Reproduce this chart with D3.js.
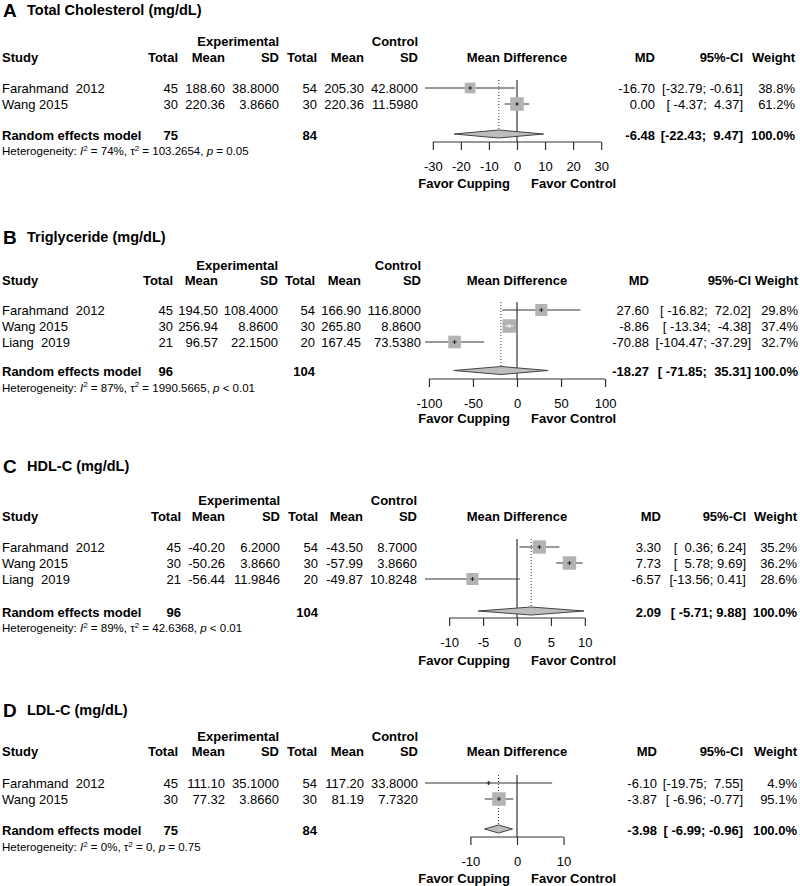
<!DOCTYPE html>
<html><head><meta charset="utf-8">
<script src="https://cdn.jsdelivr.net/npm/d3@7"></script>
<style>
body{margin:0;background:#fff}
text{font-family:"Liberation Sans",Arial,Helvetica,sans-serif;white-space:pre;fill:#000}
</style>
</head><body>
<svg id="c" width="800" height="886" xmlns="http://www.w3.org/2000/svg"></svg>
<script>
// ---------------- DATA ----------------
const panelLetters = ["A", "B", "C", "D"];
const panelTitles = ["Total Cholesterol (mg/dL)", "Triglyceride (mg/dL)", "HDL-C (mg/dL)", "LDL-C (mg/dL)"];
const studies = [
  ["Farahmand  2012", "Wang 2015"],
  ["Farahmand  2012", "Wang 2015", "Liang  2019"],
  ["Farahmand  2012", "Wang 2015", "Liang  2019"],
  ["Farahmand  2012", "Wang 2015"]
];
const expTotal = [[45, 30], [45, 30, 21], [45, 30, 21], [45, 30]];
const expMean = [[188.60, 220.36], [194.50, 256.94, 96.57], [-40.20, -50.26, -56.44], [111.10, 77.32]];
const expSD = [[38.8, 3.866], [108.4, 8.86, 22.15], [6.2, 3.866, 11.9846], [35.1, 3.866]];
const ctrlTotal = [[54, 30], [54, 30, 20], [54, 30, 20], [54, 30]];
const ctrlMean = [[205.30, 220.36], [166.90, 265.80, 167.45], [-43.50, -57.99, -49.87], [117.20, 81.19]];
const ctrlSD = [[42.8, 11.598], [116.8, 8.86, 73.538], [8.7, 3.866, 10.8248], [33.8, 7.732]];
const md = [[-16.70, 0.00], [27.60, -8.86, -70.88], [3.30, 7.73, -6.57], [-6.10, -3.87]];
const ciLower = [[-32.79, -4.37], [-16.82, -13.34, -104.47], [0.36, 5.78, -13.56], [-19.75, -6.96]];
const ciUpper = [[-0.61, 4.37], [72.02, -4.38, -37.29], [6.24, 9.69, 0.41], [7.55, -0.77]];
const weights = [[38.8, 61.2], [29.8, 37.4, 32.7], [35.2, 36.2, 28.6], [4.9, 95.1]];
const pooledMD = [-6.48, -18.27, 2.09, -3.98];
const pooledLower = [-22.43, -71.85, -5.71, -6.99];
const pooledUpper = [9.47, 35.31, 9.88, -0.96];
const pooledExpTotal = [75, 96, 96, 75];
const pooledCtrlTotal = [84, 104, 104, 84];
const hetI2 = ["74%", "87%", "89%", "0%"];
const hetTau2 = ["103.2654", "1990.5665", "42.6368", "0"];
const hetP = ["= 0.05", "< 0.01", "< 0.01", "= 0.75"];
const axisTicks = [[-30, -20, -10, 0, 10, 20, 30], [-100, -50, 0, 50, 100], [-10, -5, 0, 5, 10], [-10, 0, 10]];
const favorLabels = ["Favor Cupping", "Favor Control"];

// ---------------- LAYOUT ----------------
const yTitle = [10, 237, 466, 710];
const yExp = [41, 265, 500, 736];
const yHead = [57, 280, 516, 751];
const yRow1 = [88, 310, 547, 783];
const yRE = [135, 371.5, 612, 830];
const yHet = [151, 387.5, 628, 847];
const yAxis = [142, 379, 618, 837];
const yFavor = [183.5, 418, 660, 878];
const colX = [
  [178, 225, 279, 317, 364, 418, 655, 743, 795],
  [173, 218, 278, 315, 361, 421, 649, 751, 798],
  [181, 225, 280, 318, 363, 417, 661, 746, 797],
  [178, 225, 279, 317, 364, 418, 657, 743, 797]
];
const ROW = 16, ZERO_X = 517, HALF_W = 92;

const loc = d3.formatLocale({decimal: ".", thousands: ",", grouping: [3], currency: ["", ""], minus: "-"});
const f2 = loc.format(".2f"), f4 = loc.format(".4f"), f1 = loc.format(".1f");
const padAll = arr => { const m = d3.max(arr, s => s.length); return arr.map(s => s.padStart(m, " ")); };

const svg = d3.select("#c");

function txt(g, x, y, s, opt = {}) {
  return g.append("text").attr("x", x).attr("y", y).attr("dy", "0.35em")
    .attr("font-size", opt.size || 13)
    .attr("font-weight", opt.bold ? "bold" : "normal")
    .attr("text-anchor", opt.anchor || "start")
    .attr("xml:space", "preserve")
    .text(s);
}

function drawPanel(i) {
  const g = svg.append("g");
  const n = studies[i].length;
  const c = colX[i];
  const rowY = d3.range(n).map(k => yRow1[i] + k * ROW);
  const lim = d3.max([...ciLower[i], ...ciUpper[i], pooledLower[i], pooledUpper[i]].map(Math.abs));
  const x = d3.scaleLinear().domain([-lim, lim]).range([ZERO_X - HALF_W, ZERO_X + HALF_W]);
  const wmax = d3.max(weights[i]);
  const boxSize = d3.scaleSqrt().domain([0, wmax]).range([0, 13.5]);

  // titles
  txt(g, 3, yTitle[i], panelLetters[i], {size: 19, bold: true});
  txt(g, 27, yTitle[i], panelTitles[i], {size: 14.5, bold: true});

  // headers
  txt(g, c[2], yExp[i], "Experimental", {bold: true, anchor: "end"});
  txt(g, c[5], yExp[i], "Control", {bold: true, anchor: "end"});
  txt(g, 2, yHead[i], "Study", {bold: true});
  const heads = ["Total", "Mean", "SD", "Total", "Mean", "SD"];
  heads.forEach((h, k) => txt(g, c[k], yHead[i], h, {bold: true, anchor: "end"}));
  txt(g, ZERO_X, yHead[i], "Mean Difference", {bold: true, anchor: "middle"});
  txt(g, c[6], yHead[i], "MD", {bold: true, anchor: "end"});
  txt(g, c[7], yHead[i], "95%-CI", {bold: true, anchor: "end"});
  txt(g, c[8], yHead[i], "Weight", {bold: true, anchor: "end"});

  // CI strings
  const lows = padAll([...ciLower[i], pooledLower[i]].map(f2));
  const ups = padAll([...ciUpper[i], pooledUpper[i]].map(f2));
  const ciStr = lows.map((l, k) => "[" + l + "; " + ups[k] + "]");

  // study rows
  for (let k = 0; k < n; k++) {
    const y = rowY[k];
    txt(g, 2, y, studies[i][k]);
    txt(g, c[0], y, String(expTotal[i][k]), {anchor: "end"});
    txt(g, c[1], y, f2(expMean[i][k]), {anchor: "end"});
    txt(g, c[2], y, f4(expSD[i][k]), {anchor: "end"});
    txt(g, c[3], y, String(ctrlTotal[i][k]), {anchor: "end"});
    txt(g, c[4], y, f2(ctrlMean[i][k]), {anchor: "end"});
    txt(g, c[5], y, f4(ctrlSD[i][k]), {anchor: "end"});
    txt(g, c[6], y, f2(md[i][k]), {anchor: "end"});
    txt(g, c[7], y, ciStr[k], {anchor: "end"});
    txt(g, c[8], y, f1(weights[i][k]) + "%", {anchor: "end"});
  }

  // pooled row
  txt(g, 2, yRE[i], "Random effects model", {bold: true});
  txt(g, c[0], yRE[i], String(pooledExpTotal[i]), {bold: true, anchor: "end"});
  txt(g, c[3], yRE[i], String(pooledCtrlTotal[i]), {bold: true, anchor: "end"});
  txt(g, c[6], yRE[i], f2(pooledMD[i]), {bold: true, anchor: "end"});
  txt(g, c[7], yRE[i], ciStr[n], {bold: true, anchor: "end"});
  txt(g, c[8], yRE[i], "100.0%", {bold: true, anchor: "end"});

  // heterogeneity
  const h = g.append("text").attr("x", 2).attr("y", yHet[i]).attr("dy", "0.35em")
    .attr("font-size", 11.5).attr("xml:space", "preserve");
  h.append("tspan").text("Heterogeneity: ");
  h.append("tspan").attr("font-style", "italic").text("I");
  h.append("tspan").attr("font-size", 8).attr("dy", -4.5).text("2");
  h.append("tspan").attr("dy", 4.5).text(" = " + hetI2[i] + ", \u03C4");
  h.append("tspan").attr("font-size", 8).attr("dy", -4.5).text("2");
  h.append("tspan").attr("dy", 4.5).text(" = " + hetTau2[i] + ", ");
  h.append("tspan").attr("font-style", "italic").text("p");
  h.append("tspan").text(" " + hetP[i]);

  // zero line and pooled dotted line
  const topY = rowY[0] - 8;
  g.append("line").attr("x1", x(0)).attr("x2", x(0)).attr("y1", topY).attr("y2", yAxis[i])
    .attr("stroke", "#444").attr("stroke-width", 1.3);
  g.append("line").attr("x1", x(pooledMD[i])).attr("x2", x(pooledMD[i])).attr("y1", topY).attr("y2", yRE[i] - 5)
    .attr("stroke", "#333").attr("stroke-width", 1).attr("stroke-dasharray", "1,2");

  // study CIs and boxes
  for (let k = 0; k < n; k++) {
    const y = rowY[k];
    const xm = x(md[i][k]), xl = x(ciLower[i][k]), xu = x(ciUpper[i][k]);
    const s = boxSize(weights[i][k]);
    const inside = (xu - xl) < s;
    g.append("line").attr("x1", xl).attr("x2", xu).attr("y1", y).attr("y2", y)
      .attr("stroke", "#333").attr("stroke-width", 1);
    g.append("rect").attr("x", xm - s / 2).attr("y", y - s / 2).attr("width", s).attr("height", s)
      .attr("fill", "#b3b3b3");
    const mark = inside ? "#fff" : "#222";
    if (inside) {
      g.append("line").attr("x1", xl).attr("x2", xu).attr("y1", y).attr("y2", y)
        .attr("stroke", mark).attr("stroke-width", 1);
    } else {
      g.append("line").attr("x1", xm - 2).attr("x2", xm + 2).attr("y1", y).attr("y2", y)
        .attr("stroke", mark).attr("stroke-width", 1);
    }
    g.append("line").attr("x1", xm).attr("x2", xm).attr("y1", y - 2).attr("y2", y + 2)
      .attr("stroke", mark).attr("stroke-width", 1);
  }

  // pooled diamond
  const yd = yRE[i] - 1;
  const dpts = [[x(pooledLower[i]), yd], [x(pooledMD[i]), yd - 4], [x(pooledUpper[i]), yd], [x(pooledMD[i]), yd + 4]];
  g.append("path").attr("d", d3.line()(dpts) + "Z")
    .attr("fill", "#bdbdbd").attr("stroke", "#444").attr("stroke-width", 1);

  // axis
  const ticks = axisTicks[i];
  const ax = g.append("g").attr("transform", `translate(0,${yAxis[i]})`)
    .call(d3.axisBottom(x).tickValues(ticks).tickSize(8).tickPadding(12).tickFormat(d => String(d)));
  ax.select(".domain").remove();
  ax.append("line").attr("x1", x(ticks[0])).attr("x2", x(ticks[ticks.length - 1]))
    .attr("y1", 0).attr("y2", 0).attr("stroke", "#333").attr("stroke-width", 1.2);
  ax.selectAll(".tick line").attr("stroke", "#333").attr("stroke-width", 1.2);
  ax.selectAll(".tick text").attr("font-size", 13).attr("fill", "#000")
    .attr("font-family", "'Liberation Sans',Arial,sans-serif");

  txt(g, ZERO_X - 7, yFavor[i], favorLabels[0], {bold: true, anchor: "end"});
  txt(g, ZERO_X + 14, yFavor[i], favorLabels[1], {bold: true});
}

panelLetters.forEach((_, i) => drawPanel(i));
</script>
</body></html>
